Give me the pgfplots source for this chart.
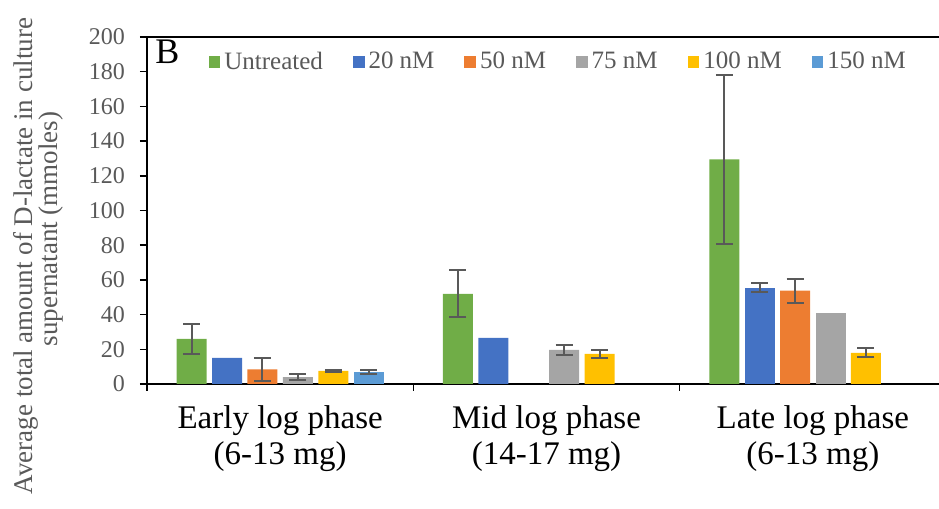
\documentclass[border=0pt]{standalone}
\usepackage{fontspec}
\setmainfont{Liberation Serif}
\usepackage{pgfplots}
\pgfplotsset{compat=1.18}
\definecolor{cgreen}{HTML}{70AD47}
\definecolor{cblue}{HTML}{4472C4}
\definecolor{corange}{HTML}{ED7D31}
\definecolor{cgray}{HTML}{A5A5A5}
\definecolor{cyellow}{HTML}{FFC000}
\definecolor{clblue}{HTML}{5B9BD5}
\definecolor{txtgray}{HTML}{595959}
\pgfplotsset{
  errshift/.style={error bars/.cd, y dir=both, y explicit,
    error bar style={line width=1pt, txtgray, xshift=#1},
    error mark options={rotate=90, mark size=4.25pt, line width=1pt, txtgray}},
}
\begin{document}
\begin{tikzpicture}
\begin{axis}[
  scale only axis,
  width=399.5pt, height=173.5pt,
  xmin=-0.5, xmax=2.5, ymin=0, ymax=200,
  axis x line*=box, axis y line*=left,
  axis line style={line width=1pt, black},
  xtick pos=left, ytick pos=left,
  tick align=outside,
  xtick={0,1,2},
  xticklabels={{Early log phase\\(6-13 mg)},{Mid log phase\\(14-17 mg)},{Late log phase\\(6-13 mg)}},
  xticklabel style={align=center, font=\fontsize{16.5}{18}\selectfont, text=black, yshift=-4pt},
  major x tick style={draw=none},
  minor xtick={-0.5,0.5,1.5,2.5},
  minor x tick style={line width=0.75pt, black},
  minor tick length=3.5pt,
  ytick={0,20,...,200},
  major tick length=3.5pt,
  y tick style={line width=0.75pt, black},
  yticklabel style={font=\fontsize{12}{14}\selectfont, text=txtgray, xshift=-4pt},
  /pgf/number format/assume math mode=true,
  bar width=15pt,
  every axis plot/.append style={draw=none},
  legend columns=6,
  legend style={at={(0.516,0.928)}, anchor=center, draw=none, fill=none,
    font=\fontsize{12.5}{14}\selectfont, text=txtgray,
    /tikz/every even column/.append style={column sep=13pt},
    nodes={inner xsep=2pt}},
  legend image code/.code={\path[#1,draw=none] (0pt,-2.9pt) rectangle (5.8pt,2.9pt);},
]
\coordinate (O) at (rel axis cs:0,0);
% Untreated
\addplot[ybar, bar shift=-44.25pt, fill=cgreen, errshift=-44.25pt]
  coordinates {(0,26) +- (0,8.5) (1,52) +- (0,13.5) (2,129.5) +- (0,48.8)};
\addlegendentry{Untreated}
% 20 nM
\addplot[ybar, bar shift=-26.55pt, fill=cblue, errshift=-26.55pt]
  coordinates {(2,55.5) +- (0,2.5)};
\addlegendentry{20 nM}
% 50 nM
\addplot[ybar, bar shift=-8.85pt, fill=corange, errshift=-8.85pt]
  coordinates {(0,8.5) +- (0,6.5) (2,53.8) +- (0,7)};
\addlegendentry{50 nM}
% 75 nM
\addplot[ybar, bar shift=8.85pt, fill=cgray, errshift=8.85pt]
  coordinates {(0,4) +- (0,1.6) (1,19.7) +- (0,3)};
\addlegendentry{75 nM}
% 100 nM
\addplot[ybar, bar shift=26.55pt, fill=cyellow, errshift=26.55pt]
  coordinates {(0,7.5) +- (0,0.8) (1,17.3) +- (0,2.2) (2,17.9) +- (0,2.6)};
\addlegendentry{100 nM}
% 150 nM
\addplot[ybar, bar shift=44.25pt, fill=clblue, errshift=44.25pt]
  coordinates {(0,7) +- (0,1.2)};
\addlegendentry{150 nM}
% bars without error bars
\addplot[ybar, bar shift=-26.55pt, fill=cblue, forget plot]
  coordinates {(0,15) (1,26.6)};
\addplot[ybar, bar shift=8.85pt, fill=cgray, forget plot]
  coordinates {(2,41)};
\end{axis}
\node[anchor=north west, inner sep=0pt, font=\fontsize{18}{20}\selectfont] at ([shift={(4pt,172pt)}]O) {B};
\node[rotate=90, anchor=base, inner sep=0pt, text=txtgray, font=\fontsize{13.5}{15}\selectfont] at ([shift={(-57pt,64pt)}]O) {Average total amount of D-lactate in culture};
\node[rotate=90, anchor=base, inner sep=0pt, text=txtgray, font=\fontsize{13.5}{15}\selectfont] at ([shift={(-44.5pt,77.5pt)}]O) {supernatant (mmoles)};
\pgfresetboundingbox
\path[use as bounding box] ([shift={(-73.5pt,-62.5pt)}]O) rectangle ([shift={(396pt,192pt)}]O);
\end{tikzpicture}
\end{document}
